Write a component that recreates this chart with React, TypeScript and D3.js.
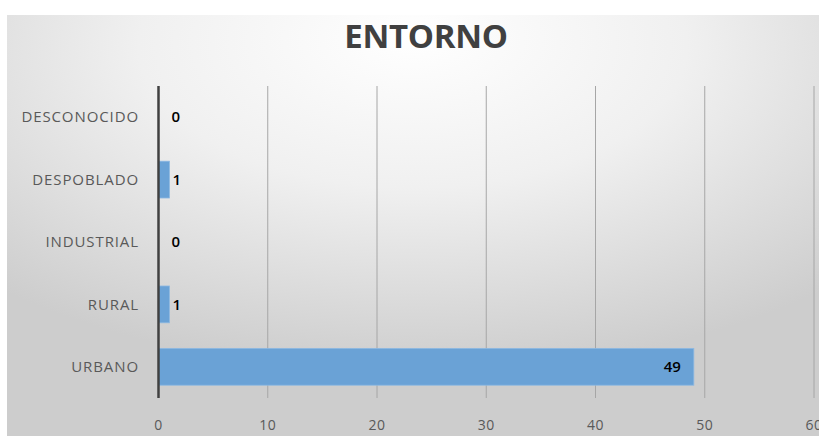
import React from "react";
import * as d3 from "d3";

const categories = ["DESCONOCIDO", "DESPOBLADO", "INDUSTRIAL", "RURAL", "URBANO"];
const values = [0, 1, 0, 1, 49];
const xTicks = [0, 10, 20, 30, 40, 50, 60];
const title = "ENTORNO";

const W = 819;
const H = 436;
const margin = { left: 158.5, right: 5, top: 86, bottom: 38 };

export default function App() {
  const x = d3.scaleLinear().domain([0, 60]).range([margin.left, 814]);
  const y = d3
    .scaleBand<string>()
    .domain(categories)
    .range([margin.top, H - margin.bottom])
    .paddingInner(0.41)
    .paddingOuter(0.205);
  const font = "'Open Sans', 'Noto Sans', sans-serif";
  return (
    <svg
      width={W}
      height={H}
      style={{ position: "absolute", left: 0, top: 0, display: "block" }}
    >
      <defs>
        <radialGradient id="bg" cx="50%" cy="10%" r="75%" fx="50%" fy="5%">
          <stop offset="0%" stopColor="#ffffff" />
          <stop offset="45%" stopColor="#f0f0f0" />
          <stop offset="100%" stopColor="#cdcdcd" />
        </radialGradient>
      </defs>
      <rect x={0} y={0} width={W} height={H} fill="#ffffff" />
      <rect x={7} y={15} width={W - 7} height={H - 15} fill="url(#bg)" />
      <text
        x={426}
        y={48}
        textAnchor="middle"
        fontFamily={font}
        fontWeight="bold"
        fontSize={33}
        fill="#404040"
        style={{ letterSpacing: "-0.3px" }}
      >
        {title}
      </text>
      {xTicks.slice(1).map((t) => (
        <line
          key={t}
          x1={x(t)}
          x2={x(t)}
          y1={margin.top}
          y2={H - margin.bottom}
          stroke="#a6a6a6"
          strokeWidth={1}
        />
      ))}
      {xTicks.map((t) => (
        <text
          key={t}
          x={x(t)}
          y={430}
          textAnchor="middle"
          fontFamily={font}
          fontSize={14}
          fill="#595959"
          style={{ letterSpacing: "0.5px" }}
        >
          {t}
        </text>
      ))}
      {categories.map((c, i) => (
        <g key={c}>
          <rect
            x={x(0)}
            y={y(c)!}
            width={x(values[i]) - x(0)}
            height={y.bandwidth()}
            fill="#6aa2d6"
            stroke="#8db9e2"
            strokeWidth={0.8}
          />
          <text
            x={139}
            y={y(c)! + y.bandwidth() / 2}
            dy="0.35em"
            textAnchor="end"
            fontFamily={font}
            fontSize={15}
            fill="#595959"
            style={{ letterSpacing: "0.9px" }}
          >
            {c}
          </text>
          <text
            x={
              values[i] > 10
                ? x(values[i]) - 13
                : Math.max(x(values[i]) + 3, x(0) + 13)
            }
            y={y(c)! + y.bandwidth() / 2}
            dy="0.35em"
            textAnchor={values[i] > 10 ? "end" : "start"}
            fontFamily={font}
            fontSize={15}
            fontWeight={600}
            fill="#000000"
          >
            {values[i]}
          </text>
        </g>
      ))}
      <line
        x1={x(0)}
        x2={x(0)}
        y1={margin.top}
        y2={H - margin.bottom}
        stroke="#404040"
        strokeWidth={2.5}
      />
    </svg>
  );
}
